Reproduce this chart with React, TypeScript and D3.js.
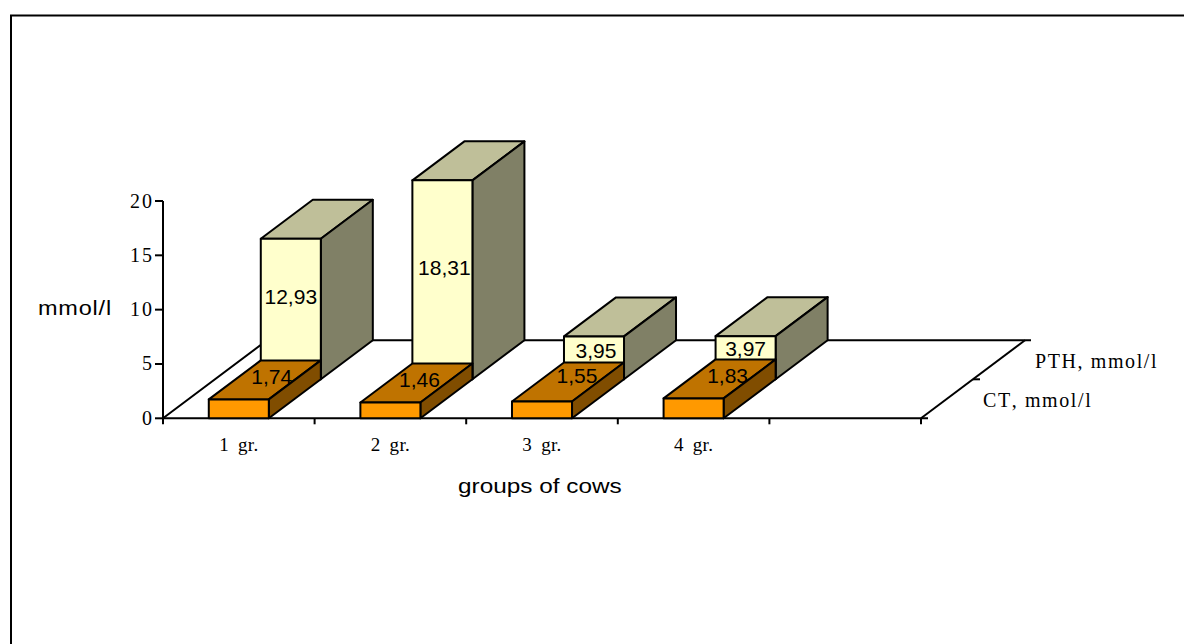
import React from "react";
import * as d3 from "d3";

const categories = ["1 gr.", "2 gr.", "3 gr.", "4 gr.", ""];
const yTicks = [0, 5, 10, 15, 20];
const seriesNames = ["CT, mmol/l", "PTH, mmol/l"];
const ctValues = [1.74, 1.46, 1.55, 1.83];
const pthValues = [12.93, 18.31, 3.95, 3.97];

// Small per-label nudges, as the value labels were placed by hand
const pthLabelNudge: [number, number][] = [[0, -5], [2, -5], [2, 0], [0, -2]];
const ctLabelNudge: [number, number][] = [[7, 4], [3, 4], [9, 1], [8, 4]];

const WIDTH = 1184;
const HEIGHT = 644;
const SERIF = "'Liberation Serif', serif";
const SANS = "'Liberation Sans', sans-serif";
const LINE = 2;

const x = d3.scaleBand<string>().domain(categories).range([163, 921]).paddingInner(0.604).paddingOuter(0.302);
const axisX = d3.scaleBand<string>().domain(categories).range([163, 921]);
const y = d3.scaleLinear().domain([0, 20]).range([418.3, 201]);
const depthX = d3.scaleLinear().domain([0, 2]).range([0, 104]);
const depthY = d3.scaleLinear().domain([0, 2]).range([0, -78]);

const pt = (px: number, py: number, depth: number): [number, number] => [px + depthX(depth), py + depthY(depth)];
const poly = (pts: [number, number][]) => d3.line()(pts) + "Z";
const decimal = (v: number) => d3.format(".2f")(v).replace(".", ",");

const palettes = [
  { front: "#FF9900", top: "#BF7300", side: "#804D00" },
  { front: "#FFFFCC", top: "#BFBF99", side: "#808066" },
];

function Bar({ cat, value, depth, colors }: { cat: string; value: number; depth: number; colors: typeof palettes[0] }) {
  const x0 = x(cat)!;
  const x1 = x0 + x.bandwidth();
  const base = y(0);
  const top = y(value);
  const stroke = { stroke: "#000", strokeWidth: LINE, strokeLinejoin: "round" as const };
  return (
    <g>
      <path d={poly([pt(x0, top, depth), pt(x1, top, depth), pt(x1, top, depth + 1), pt(x0, top, depth + 1)])} fill={colors.top} {...stroke} />
      <path d={poly([pt(x1, base, depth), pt(x1, top, depth), pt(x1, top, depth + 1), pt(x1, base, depth + 1)])} fill={colors.side} {...stroke} />
      <path d={poly([pt(x0, base, depth), pt(x1, base, depth), pt(x1, top, depth), pt(x0, top, depth)])} fill={colors.front} {...stroke} />
    </g>
  );
}

export default function App() {
  const series = [pthValues, ctValues];
  const base = y(0);
  const floorBack = pt(163, base, 2);
  const floorEnd = pt(921, base, 2);
  return (
    <svg width={WIDTH} height={HEIGHT} style={{ position: "absolute", left: 0, top: 0, background: "#fff" }}>
      <path d={`M11,${HEIGHT + 4}V15.5H${WIDTH + 4}`} fill="none" stroke="#000" strokeWidth={2} />

      {/* floor and axes */}
      <g fill="none" stroke="#000" strokeWidth={LINE}>
        <path d={`M163,${base}L${floorBack[0]},${floorBack[1]}H${floorEnd[0] + 6}`} />
        <path d={`M${floorEnd[0]},${floorEnd[1]}L921,${base}`} />
        <path d={`M163,${y(20)}V${base}H928`} />
        {yTicks.map((t) => (
          <path key={t} d={`M155,${y(t)}H163`} />
        ))}
        {categories.map((c) => (
          <path key={c} d={`M${axisX(c)},${base}v6`} />
        ))}
        <path d={`M921,${base}v6`} />
        <path d={`M${pt(921, base, 1)[0]},${pt(921, base, 1)[1]}h7`} />
      </g>

      {yTicks.map((t) => (
        <text key={t} x={154} y={y(t) + 6.5} textAnchor="end" fontFamily={SERIF} fontSize={20} letterSpacing={2}>
          {t}
        </text>
      ))}
      {categories.map((c) => (
        <text key={c} x={axisX(c)! + axisX.bandwidth() / 2} y={451} textAnchor="middle" fontFamily={SERIF} fontSize={19} wordSpacing={4} letterSpacing={0.3}>
          {c}
        </text>
      ))}

      {/* back series first so the front row overlaps it */}
      {series.map((vals, i) =>
        vals.map((v, j) => <Bar key={`${i}-${j}`} cat={categories[j]} value={v} depth={1 - i} colors={palettes[1 - i]} />)
      )}

      {/* value labels */}
      <g fontFamily={SANS} fontSize={21} textAnchor="middle" fill="#000">
        {pthValues.map((v, j) => {
          const [px, py] = pt(x(categories[j])! + x.bandwidth() / 2, y(v / 2), 1);
          return (
            <text key={j} x={px + pthLabelNudge[j][0]} y={py + pthLabelNudge[j][1]}>
              {decimal(v)}
            </text>
          );
        })}
        {ctValues.map((v, j) => {
          const [px, py] = pt(x(categories[j])! + x.bandwidth() / 2, y(v), 0.5);
          return (
            <text key={j} x={px + ctLabelNudge[j][0]} y={py + ctLabelNudge[j][1]}>
              {decimal(v)}
            </text>
          );
        })}
      </g>

      {/* axis titles are drawn slightly wide */}
      <text transform="translate(38,315) scale(1.12,1)" fontFamily={SANS} fontSize={21} letterSpacing={0.7}>mmol/l</text>
      <text transform="translate(458,493) scale(1.16,1)" fontFamily={SANS} fontSize={21}>groups of cows</text>
      <text x={983} y={407} fontFamily={SERIF} fontSize={20} letterSpacing={1.6} style={{ fontKerning: "none" }}>{seriesNames[0]}</text>
      <text x={1035} y={367.5} fontFamily={SERIF} fontSize={20} letterSpacing={1.6} style={{ fontKerning: "none" }}>{seriesNames[1]}</text>
    </svg>
  );
}
